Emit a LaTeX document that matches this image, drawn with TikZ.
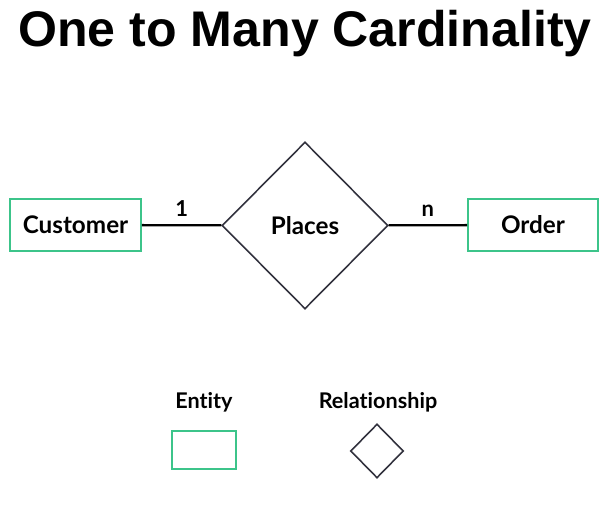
\documentclass[tikz,border=0pt]{standalone}
\usepackage{fontspec}
\setmainfont{Lato}[Ligatures={NoCommon}]
\newfontfamily\titlefont{Liberation Sans}
\usetikzlibrary{shapes.geometric}
\definecolor{entgreen}{RGB}{60,196,138}
\definecolor{reldark}{RGB}{50,50,62}
\tikzstyle{entity} = [rectangle, minimum width=2.62cm, minimum height=1.04cm, text centered, draw=entgreen, line width=1.1pt, font=\fontsize{13.8}{16}\selectfont\bfseries]
\tikzstyle{relation} = [diamond, aspect=1, minimum width=3.32cm, minimum height=3.34cm, inner sep=0pt, text centered, draw=reldark, line width=0.9pt, font=\fontsize{13.8}{16}\selectfont\bfseries]
\tikzstyle{link} = [line width=1.3pt, black]
\tikzstyle{card} = [above=1pt, font=\fontsize{12.5}{14}\selectfont\bfseries]
\tikzstyle{legend} = [font=\fontsize{12.3}{14}\selectfont\bfseries]

\begin{document}
\begin{tikzpicture}[x=0.02cm, y=-0.02cm]
        \useasboundingbox (0,0) rectangle (610,516);
        \node (title) at (305,34) {\titlefont\fontsize{28.5}{32}\selectfont\bfseries One to Many Cardinality};
        \node (cust) [entity] at (75.5,225) {Customer};
        \node (places) [relation] at (305,225.5) {Places};
        \node (order) [entity, minimum width=2.6cm] at (533,225) {Order};
        \draw [link] (cust) -- node[card] {1} (places);
        \draw [link] (places) -- node[card] {n} (order);
        % legend
        \node (enttext) [legend] at (204,402) {Entity};
        \node (entkey) [entity, minimum width=1.28cm, minimum height=0.76cm] at (204,450) {};
        \node (reltext) [legend] at (378,402) {Relationship};
        \node (relkey) [relation, minimum width=1.06cm, minimum height=1.08cm] at (377,451) {};
    \end{tikzpicture}
\end{document}
